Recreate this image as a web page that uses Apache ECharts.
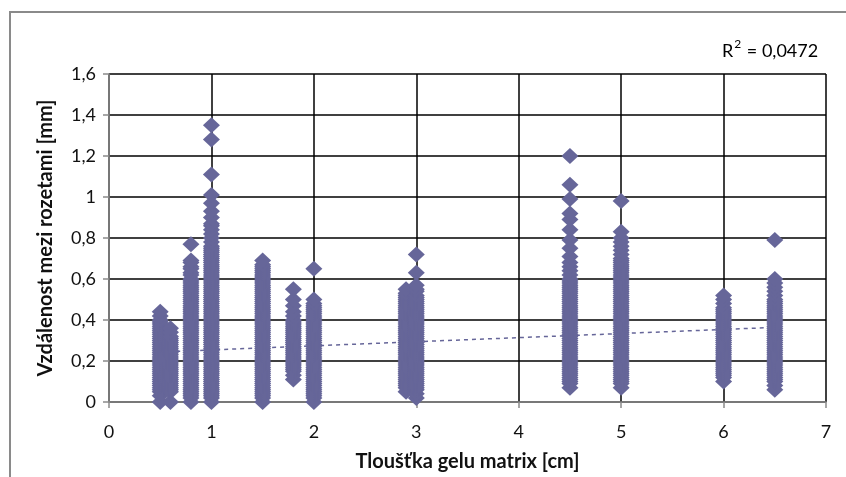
<!DOCTYPE html>
<html>
<head>
<meta charset="utf-8">
<script src="https://cdn.jsdelivr.net/npm/echarts@6/dist/echarts.min.js"></script>
<style>
html,body{margin:0;padding:0;background:#fff;}
#chart{width:846px;height:477px;}
</style>
</head>
<body>
<div id="chart"></div>
<script>
// ---- data ----
var xValues = [0.5, 0.6, 0.8, 1, 1.5, 1.8, 2, 2.9, 3, 4.5, 5, 6, 6.5];
var y_0_5 = [0, 0.03, 0.05, 0.06, 0.07, 0.08, 0.09, 0.1, 0.11, 0.12, 0.13, 0.14, 0.15, 0.16, 0.17, 0.18, 0.19, 0.2, 0.21, 0.22, 0.23, 0.24, 0.25, 0.26, 0.27, 0.28, 0.29, 0.3, 0.31, 0.32, 0.33, 0.34, 0.35, 0.36, 0.37, 0.38, 0.39, 0.4, 0.42, 0.44];
var y_0_6 = [0, 0.05, 0.06, 0.07, 0.08, 0.09, 0.1, 0.11, 0.12, 0.13, 0.14, 0.15, 0.16, 0.17, 0.18, 0.19, 0.2, 0.21, 0.22, 0.23, 0.24, 0.25, 0.26, 0.27, 0.28, 0.29, 0.3, 0.31, 0.32, 0.34, 0.36];
var y_0_8 = [0, 0.02, 0.03, 0.04, 0.05, 0.06, 0.07, 0.08, 0.09, 0.1, 0.11, 0.12, 0.13, 0.14, 0.15, 0.16, 0.17, 0.18, 0.19, 0.2, 0.21, 0.22, 0.23, 0.24, 0.25, 0.26, 0.27, 0.28, 0.29, 0.3, 0.31, 0.32, 0.33, 0.34, 0.35, 0.36, 0.37, 0.38, 0.39, 0.4, 0.41, 0.42, 0.43, 0.44, 0.45, 0.46, 0.47, 0.48, 0.49, 0.5, 0.51, 0.52, 0.53, 0.54, 0.55, 0.56, 0.57, 0.58, 0.59, 0.6, 0.62, 0.63, 0.65, 0.66, 0.68, 0.69, 0.77];
var y_1_0 = [0, 0.02, 0.03, 0.04, 0.05, 0.06, 0.07, 0.08, 0.09, 0.1, 0.11, 0.12, 0.13, 0.14, 0.15, 0.16, 0.17, 0.18, 0.19, 0.2, 0.21, 0.22, 0.23, 0.24, 0.25, 0.26, 0.27, 0.28, 0.29, 0.3, 0.31, 0.32, 0.33, 0.34, 0.35, 0.36, 0.37, 0.38, 0.39, 0.4, 0.41, 0.42, 0.43, 0.44, 0.45, 0.46, 0.47, 0.48, 0.49, 0.5, 0.51, 0.52, 0.53, 0.54, 0.55, 0.56, 0.57, 0.58, 0.59, 0.6, 0.61, 0.62, 0.63, 0.64, 0.65, 0.66, 0.67, 0.68, 0.69, 0.7, 0.71, 0.72, 0.73, 0.74, 0.75, 0.76, 0.78, 0.8, 0.82, 0.84, 0.86, 0.87, 0.9, 0.93, 0.97, 1.01, 1.11, 1.28, 1.35];
var y_1_5 = [0, 0.02, 0.03, 0.04, 0.05, 0.06, 0.07, 0.08, 0.09, 0.1, 0.11, 0.12, 0.13, 0.14, 0.15, 0.16, 0.17, 0.18, 0.19, 0.2, 0.21, 0.22, 0.23, 0.24, 0.25, 0.26, 0.27, 0.28, 0.29, 0.3, 0.31, 0.32, 0.33, 0.34, 0.35, 0.36, 0.37, 0.38, 0.39, 0.4, 0.41, 0.42, 0.43, 0.44, 0.45, 0.46, 0.47, 0.48, 0.49, 0.5, 0.51, 0.52, 0.53, 0.54, 0.55, 0.56, 0.57, 0.58, 0.59, 0.6, 0.61, 0.62, 0.63, 0.64, 0.65, 0.66, 0.67, 0.69];
var y_1_8 = [0.11, 0.13, 0.15, 0.16, 0.17, 0.18, 0.19, 0.2, 0.21, 0.22, 0.23, 0.24, 0.25, 0.26, 0.27, 0.28, 0.29, 0.3, 0.31, 0.32, 0.33, 0.34, 0.35, 0.36, 0.37, 0.38, 0.39, 0.4, 0.42, 0.44, 0.47, 0.5, 0.55];
var y_2_0 = [0, 0.02, 0.03, 0.04, 0.05, 0.06, 0.07, 0.08, 0.09, 0.1, 0.11, 0.12, 0.13, 0.14, 0.15, 0.16, 0.17, 0.18, 0.19, 0.2, 0.21, 0.22, 0.23, 0.24, 0.25, 0.26, 0.27, 0.28, 0.29, 0.3, 0.31, 0.32, 0.33, 0.34, 0.35, 0.36, 0.37, 0.38, 0.39, 0.4, 0.41, 0.42, 0.43, 0.44, 0.45, 0.46, 0.47, 0.48, 0.5, 0.65];
var y_2_9 = [0.05, 0.07, 0.08, 0.09, 0.1, 0.11, 0.12, 0.13, 0.14, 0.15, 0.16, 0.17, 0.18, 0.19, 0.2, 0.21, 0.22, 0.23, 0.24, 0.25, 0.26, 0.27, 0.28, 0.29, 0.3, 0.31, 0.32, 0.33, 0.34, 0.35, 0.36, 0.37, 0.38, 0.39, 0.4, 0.41, 0.42, 0.43, 0.44, 0.45, 0.46, 0.47, 0.48, 0.49, 0.5, 0.51, 0.52, 0.53, 0.55];
var y_3_0 = [0.02, 0.04, 0.06, 0.07, 0.08, 0.09, 0.1, 0.11, 0.12, 0.13, 0.14, 0.15, 0.16, 0.17, 0.18, 0.19, 0.2, 0.21, 0.22, 0.23, 0.24, 0.25, 0.26, 0.27, 0.28, 0.29, 0.3, 0.31, 0.32, 0.33, 0.34, 0.35, 0.36, 0.37, 0.38, 0.39, 0.4, 0.41, 0.42, 0.43, 0.44, 0.45, 0.46, 0.47, 0.48, 0.49, 0.5, 0.51, 0.52, 0.54, 0.55, 0.57, 0.63, 0.72];
var y_4_5 = [0.07, 0.09, 0.1, 0.11, 0.12, 0.13, 0.14, 0.15, 0.16, 0.17, 0.18, 0.19, 0.2, 0.21, 0.22, 0.23, 0.24, 0.25, 0.26, 0.27, 0.28, 0.29, 0.3, 0.31, 0.32, 0.33, 0.34, 0.35, 0.36, 0.37, 0.38, 0.39, 0.4, 0.41, 0.42, 0.43, 0.44, 0.45, 0.46, 0.47, 0.48, 0.49, 0.5, 0.51, 0.52, 0.53, 0.54, 0.55, 0.56, 0.57, 0.58, 0.59, 0.6, 0.62, 0.64, 0.66, 0.68, 0.71, 0.75, 0.79, 0.84, 0.89, 0.92, 0.99, 1.06, 1.2];
var y_5_0 = [0.07, 0.09, 0.1, 0.11, 0.12, 0.13, 0.14, 0.15, 0.16, 0.17, 0.18, 0.19, 0.2, 0.21, 0.22, 0.23, 0.24, 0.25, 0.26, 0.27, 0.28, 0.29, 0.3, 0.31, 0.32, 0.33, 0.34, 0.35, 0.36, 0.37, 0.38, 0.39, 0.4, 0.41, 0.42, 0.43, 0.44, 0.45, 0.46, 0.47, 0.48, 0.49, 0.5, 0.51, 0.52, 0.53, 0.54, 0.55, 0.56, 0.57, 0.58, 0.59, 0.6, 0.61, 0.62, 0.63, 0.64, 0.65, 0.66, 0.67, 0.68, 0.69, 0.7, 0.72, 0.74, 0.76, 0.78, 0.8, 0.83, 0.98];
var y_6_0 = [0.1, 0.12, 0.13, 0.14, 0.15, 0.16, 0.17, 0.18, 0.19, 0.2, 0.21, 0.22, 0.23, 0.24, 0.25, 0.26, 0.27, 0.28, 0.29, 0.3, 0.31, 0.32, 0.33, 0.34, 0.35, 0.36, 0.37, 0.38, 0.39, 0.4, 0.41, 0.42, 0.43, 0.44, 0.45, 0.46, 0.48, 0.5, 0.52];
var y_6_5 = [0.06, 0.08, 0.1, 0.11, 0.12, 0.13, 0.14, 0.15, 0.16, 0.17, 0.18, 0.19, 0.2, 0.21, 0.22, 0.23, 0.24, 0.25, 0.26, 0.27, 0.28, 0.29, 0.3, 0.31, 0.32, 0.33, 0.34, 0.35, 0.36, 0.37, 0.38, 0.39, 0.4, 0.41, 0.42, 0.43, 0.44, 0.45, 0.46, 0.47, 0.48, 0.49, 0.5, 0.52, 0.54, 0.56, 0.58, 0.6, 0.79];
var yGroups = [y_0_5, y_0_6, y_0_8, y_1_0, y_1_5, y_1_8, y_2_0, y_2_9, y_3_0, y_4_5, y_5_0, y_6_0, y_6_5];
var trendX = [0.5, 6.5];
var trendY = [0.244, 0.364];
var r2Value = '0,0472';
var xTitle = 'Tloušťka gelu matrix [cm]';
var yTitle = 'Vzdálenost mezi rozetami [mm]';

// ---- build ----
var points = [];
for (var i = 0; i < xValues.length; i++) {
  for (var j = 0; j < yGroups[i].length; j++) points.push([xValues[i], yGroups[i][j]]);
}
var trend = trendX.map(function (x, k) { return [x, trendY[k]]; });
function fmt(v) { return String(+(+v).toFixed(1)).replace('.', ','); }

var FONT = 'Lato, "Open Sans", sans-serif';
var chart = echarts.init(document.getElementById('chart'), null, { renderer: 'canvas' });
chart.setOption({
  animation: false,
  backgroundColor: '#ffffff',
  grid: { left: 109, right: 20, top: 74, bottom: 71, containLabel: false },
  graphic: [{
    type: 'rect', z: -1, silent: true,
    shape: { x: 10, y: 12, width: 900, height: 520 },
    style: { fill: 'none', stroke: '#8a8a8a', lineWidth: 2 }
  }, {
    type: 'text', left: 722, top: 38,
    style: {
      text: '{a|R}{s|2}{a| = ' + r2Value + '}',
      rich: {
        a: { fontFamily: FONT, fontSize: 18, color: '#111', verticalAlign: 'bottom', lineHeight: 22 },
        s: { fontFamily: FONT, fontSize: 12, color: '#111', verticalAlign: 'top', lineHeight: 22, padding: [0, 1, 8, 1] }
      }
    }
  }],
  xAxis: {
    type: 'value', min: 0, max: 7, interval: 1,
    name: xTitle, nameLocation: 'middle', nameGap: 50,
    nameTextStyle: { fontFamily: FONT, fontSize: 20, fontWeight: 'bold', color: '#111' },
    axisLine: { show: true, onZero: false, lineStyle: { color: '#8a8a8a', width: 1.5 } },
    axisTick: { show: true, length: 6, lineStyle: { color: '#8a8a8a', width: 1.5 } },
    axisLabel: { margin: 21, fontFamily: FONT, fontSize: 18, color: '#111', formatter: fmt },
    splitLine: { show: true, lineStyle: { color: '#000', width: 1.5 } }
  },
  yAxis: {
    type: 'value', min: 0, max: 1.6, interval: 0.2,
    name: yTitle, nameLocation: 'middle', nameGap: 53,
    nameTextStyle: { fontFamily: FONT, fontSize: 20, fontWeight: 'bold', color: '#111' },
    axisLine: { show: true, onZero: false, lineStyle: { color: '#8a8a8a', width: 1.5 } },
    axisTick: { show: true, length: 6, lineStyle: { color: '#8a8a8a', width: 1.5 } },
    axisLabel: { margin: 13, fontFamily: FONT, fontSize: 18, color: '#111', formatter: fmt },
    splitLine: { show: true, lineStyle: { color: '#000', width: 1.5 } }
  },
  series: [{
    type: 'scatter', data: points, symbol: 'diamond', symbolSize: [17, 16],
    itemStyle: { color: '#666699', opacity: 1 }, z: 3
  }, {
    type: 'line', data: trend, symbol: 'none', z: 2,
    lineStyle: { color: '#666699', width: 1.5, type: [4, 4] }
  }]
});
</script>
</body>
</html>
